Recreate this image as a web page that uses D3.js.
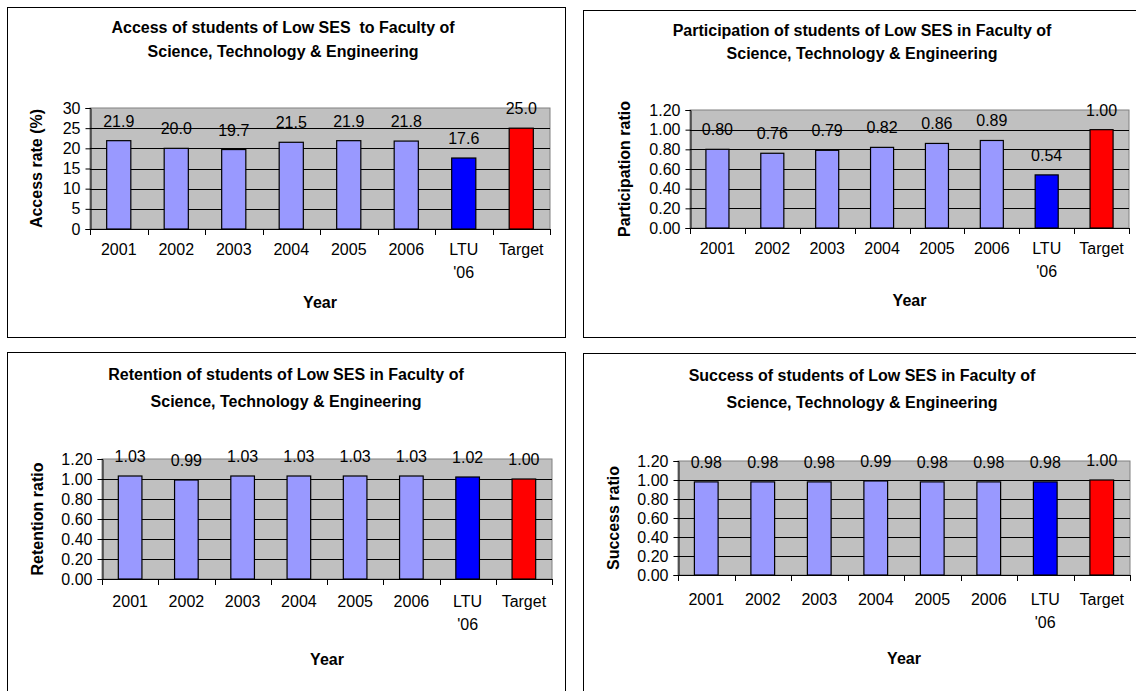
<!DOCTYPE html>
<html>
<head>
<meta charset="utf-8">
<script src="https://cdn.jsdelivr.net/npm/d3@7"></script>
<style>
  html, body { margin: 0; padding: 0; background: #fff; }
  svg { display: block; font-family: "Liberation Sans", Arial, sans-serif; }
  text { white-space: pre; }
</style>
</head>
<body>
<svg id="chart" width="1136" height="691"></svg>
<script>
// ---- Data ----
const categories = ["2001", "2002", "2003", "2004", "2005", "2006", "LTU\n'06", "Target"];
const accessRate = [21.9, 20.0, 19.7, 21.5, 21.9, 21.8, 17.6, 25.0];
const participationRatio = [0.80, 0.76, 0.79, 0.82, 0.86, 0.89, 0.54, 1.00];
const retentionRatio = [1.03, 0.99, 1.03, 1.03, 1.03, 1.03, 1.02, 1.00];
const successRatio = [0.98, 0.98, 0.98, 0.99, 0.98, 0.98, 0.98, 1.00];
const accessTicks = [0, 5, 10, 15, 20, 25, 30];
const ratioTicks = [0, 0.2, 0.4, 0.6, 0.8, 1.0, 1.2];

const titles = {
  access: ["Access of students of Low SES  to Faculty of", "Science, Technology & Engineering"],
  participation: ["Participation of students of Low SES in Faculty of", "Science, Technology & Engineering"],
  retention: ["Retention of students of Low SES in Faculty of", "Science, Technology & Engineering"],
  success: ["Success of students of Low SES in Faculty of", "Science, Technology & Engineering"]
};

const barColors = ["#9999FF", "#9999FF", "#9999FF", "#9999FF", "#9999FF", "#9999FF", "#0000FF", "#FF0000"];

const svg = d3.select("#chart");

const panels = [
  { key: "access", values: accessRate, ticks: accessTicks, max: 30, fmt: d3.format(".1f"), tickFmt: d3.format("d"),
    yTitle: "Access rate (%)",
    box: [7, 7, 558, 330], plot: [90, 108, 550, 229], titleX: 283, titleY: [29, 53],
    yTitleX: 38, tickY: 251, xTitleY: 304 },
  { key: "participation", values: participationRatio, ticks: ratioTicks, max: 1.2, fmt: d3.format(".2f"), tickFmt: d3.format(".2f"),
    yTitle: "Participation ratio",
    box: [583, 10, 570, 327], plot: [690, 110, 1129, 228], titleX: 862, titleY: [32, 55],
    yTitleX: 626, tickY: 250, xTitleY: 302 },
  { key: "retention", values: retentionRatio, ticks: ratioTicks, max: 1.2, fmt: d3.format(".2f"), tickFmt: d3.format(".2f"),
    yTitle: "Retention ratio",
    box: [7, 352, 558, 360], plot: [102, 459, 552, 579], titleX: 286, titleY: [376, 403],
    yTitleX: 39, tickY: 603, xTitleY: 661 },
  { key: "success", values: successRatio, ticks: ratioTicks, max: 1.2, fmt: d3.format(".2f"), tickFmt: d3.format(".2f"),
    yTitle: "Success ratio",
    box: [583, 353, 570, 360], plot: [678, 461, 1130, 575], titleX: 862, titleY: [377, 404],
    yTitleX: 615, tickY: 601, xTitleY: 660 }
];

panels.forEach(p => {
  const g = svg.append("g");
  const [bx, by, bw, bh] = p.box;
  g.append("rect").attr("x", bx + 0.5).attr("y", by + 0.5).attr("width", bw).attr("height", bh)
    .attr("fill", "#fff").attr("stroke", "#000").attr("stroke-width", 1);

  const [x0, y0, x1, y1] = p.plot;
  const x = d3.scaleBand().domain(categories).range([x0, x1]).padding(0);
  const y = d3.scaleLinear().domain([0, p.max]).range([y1, y0]);

  // plot area
  g.append("rect").attr("x", x0).attr("y", y0).attr("width", x1 - x0).attr("height", y1 - y0)
    .attr("fill", "#C0C0C0").attr("stroke", "#808080").attr("stroke-width", 1);

  // gridlines
  g.selectAll(".grid").data(p.ticks.filter(t => t > 0 && t < p.max)).enter().append("line")
    .attr("x1", x0).attr("x2", x1)
    .attr("y1", d => Math.round(y(d)) + 0.5).attr("y2", d => Math.round(y(d)) + 0.5)
    .attr("stroke", "#000").attr("stroke-width", 1);

  // bars
  const barW = x.bandwidth() * 0.42;
  g.selectAll(".bar").data(p.values).enter().append("rect")
    .attr("x", (d, i) => x(categories[i]) + (x.bandwidth() - barW) / 2)
    .attr("y", d => y(d))
    .attr("width", barW)
    .attr("height", d => y1 - y(d))
    .attr("fill", (d, i) => barColors[i])
    .attr("stroke", "#000").attr("stroke-width", 1.2);

  // value labels
  g.selectAll(".val").data(p.values).enter().append("text")
    .attr("x", (d, i) => x(categories[i]) + x.bandwidth() / 2)
    .attr("y", d => y(d) - 14)
    .attr("text-anchor", "middle")
    .attr("font-size", 16)
    .attr("fill", "#000")
    .text(d => p.fmt(d));

  // y axis
  const yAxis = d3.axisLeft(y).tickValues(p.ticks).tickFormat(p.tickFmt).tickSize(5).tickPadding(5);
  const ya = g.append("g").attr("transform", `translate(${x0 + 0.5},0)`).call(yAxis);
  ya.select(".domain").attr("stroke", "#000");
  ya.selectAll(".tick line").attr("stroke", "#000");
  ya.selectAll("text").attr("font-size", 16).attr("fill", "#000").attr("font-family", null);

  // x axis
  const xAxis = d3.axisBottom(x).tickSize(0).tickFormat("");
  const xa = g.append("g").attr("transform", `translate(0,${y1 + 0.5})`).call(xAxis);
  xa.select(".domain").attr("stroke", "#000").attr("d", `M${x0},0H${x1}`);
  // tick marks at category boundaries
  g.selectAll(".xt").data(d3.range(categories.length + 1)).enter().append("line")
    .attr("x1", i => Math.round(x0 + i * x.step()) + 0.5)
    .attr("x2", i => Math.round(x0 + i * x.step()) + 0.5)
    .attr("y1", y1).attr("y2", y1 + 6)
    .attr("stroke", "#000");

  // category labels
  categories.forEach((c, i) => {
    const lines = c.split("\n");
    const t = g.append("text")
      .attr("x", x(c) + x.bandwidth() / 2)
      .attr("y", p.tickY)
      .attr("text-anchor", "middle")
      .attr("dominant-baseline", "middle")
      .attr("font-size", 16)
      .attr("fill", "#000");
    lines.forEach((ln, k) => {
      t.append("tspan").attr("x", x(c) + x.bandwidth() / 2).attr("dy", k === 0 ? 0 : 23).text(ln);
    });
  });

  // titles
  p.titleY.forEach((ty, k) => {
    g.append("text").attr("x", p.titleX).attr("y", ty)
      .attr("text-anchor", "middle").attr("dominant-baseline", "middle")
      .attr("font-size", 16).attr("font-weight", "bold").attr("fill", "#000")
      .text(titles[p.key][k]);
  });

  // x title
  g.append("text").attr("x", (x0 + x1) / 2).attr("y", p.xTitleY)
    .attr("text-anchor", "middle").attr("dominant-baseline", "middle")
    .attr("font-size", 16).attr("font-weight", "bold").attr("fill", "#000")
    .text("Year");

  // y title
  g.append("text")
    .attr("transform", `translate(${p.yTitleX},${(y0 + y1) / 2}) rotate(-90)`)
    .attr("text-anchor", "middle").attr("dominant-baseline", "middle")
    .attr("font-size", 16).attr("font-weight", "bold").attr("fill", "#000")
    .text(p.yTitle);
});
</script>
</body>
</html>
